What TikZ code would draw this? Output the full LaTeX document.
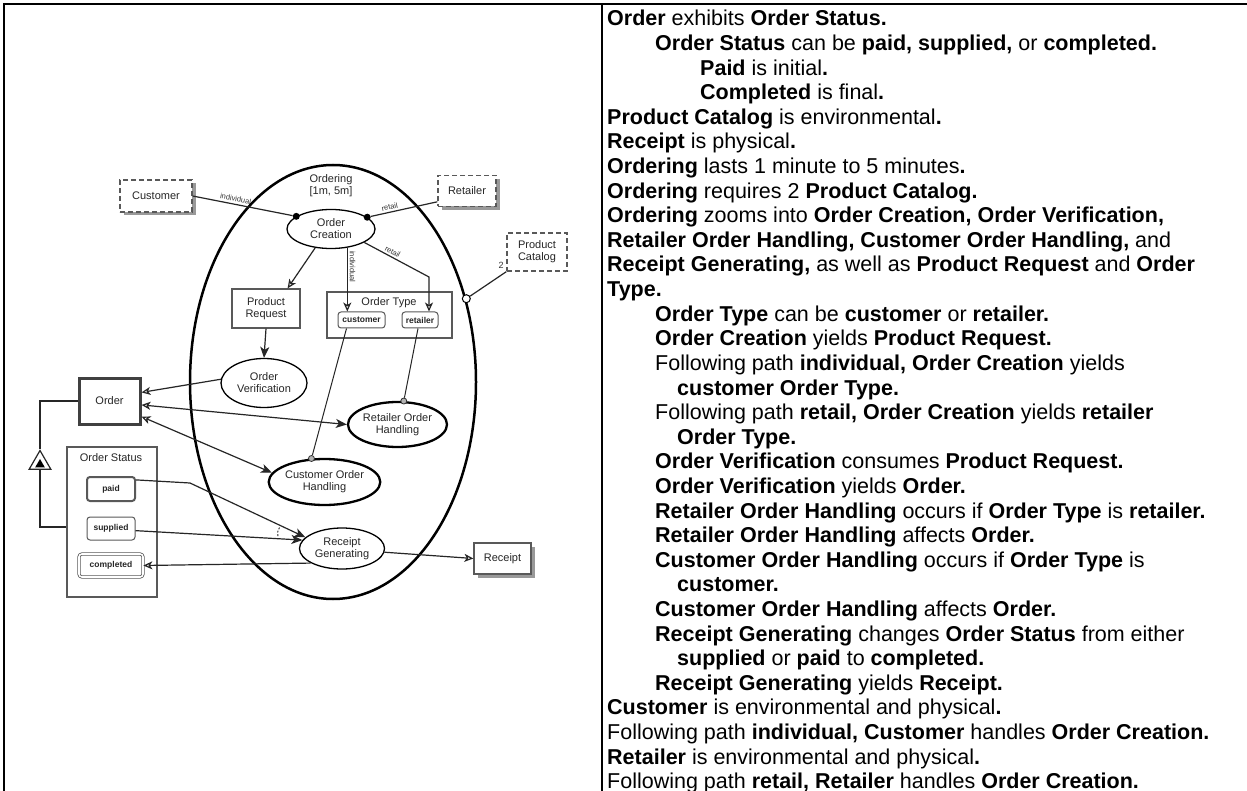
\documentclass[tikz,border=0pt]{standalone}
\usepackage{fontspec}
\setmainfont{Liberation Sans}
\usetikzlibrary{shapes.geometric,arrows.meta,shadows}
\newcommand\bt[1]{\textbf{#1}}
\begin{document}
\begin{tikzpicture}[x=1pt,y=-1pt,
  diag/.style={font=\fontsize{11}{12}\selectfont, text=black!85, align=center, inner sep=0pt},
  objbox/.style={diag, rectangle, draw=black!65, line width=1.3pt, fill=white},
  envbox/.style={dash pattern=on 5pt off 3pt},
  physbox/.style={drop shadow={shadow xshift=3.5pt, shadow yshift=-3.5pt, fill=black!40, opacity=1}},
  proc/.style={diag, ellipse, draw=black, line width=1.3pt, fill=white},
  heavyproc/.style={proc, line width=2.3pt},
  statebox/.style={rectangle, rounded corners=3pt, draw=black!65, line width=1pt, fill=white, font=\fontsize{8.5}{9}\selectfont\bfseries, text=black!85, inner sep=0pt},
  link/.style={draw=black!85, line width=1.2pt},
  reslink/.style={link, -{Stealth[open, length=9pt, width=8pt, inset=2.5pt]}},
  conslink/.style={link, -{Stealth[length=11pt, width=9pt, inset=3pt]}},
  efflink/.style={link, {Stealth[open, length=9pt, width=8pt, inset=2.5pt]}-{Stealth[length=11pt, width=9pt, inset=3pt]}},
  tag/.style={font=\fontsize{7.5}{8}\selectfont, text=black!80, inner sep=1pt},
  agentdot/.style={circle, fill=black, inner sep=0pt, minimum size=7pt},
  instcirc/.style={circle, draw=black, line width=1pt, fill=white, inner sep=0pt, minimum size=8pt},
  condcirc/.style={circle, draw=black!80, line width=0.8pt, fill=black!30, inner sep=0pt, minimum size=6pt},
  txtline/.style={anchor=base west, inner sep=0pt, font=\fontsize{21.5}{24}\selectfont}
]
\fill[white] (0,0) rectangle (1247,791);
\useasboundingbox (0,0) rectangle (1247,791);

% table frame
\draw[line width=2pt] (4,791) -- (4,4) -- (1247,4);
\draw[line width=2pt] (602,4) -- (602,791);

% ---------- OPD ----------
\node[ellipse, draw=black, line width=2.5pt, minimum width=286pt, minimum height=434pt, inner sep=0pt] (ordering) at (333,382) {};
\node[diag] (ordlbl) at (331,186) {Ordering\\{[1m, 5m]}};

\node[objbox, envbox, physbox, minimum width=72pt, minimum height=32pt] (cust) at (156,196) {Customer};
\node[objbox, envbox, physbox, minimum width=58pt, minimum height=31pt] (ret) at (467,191) {Retailer};
\node[objbox, envbox, minimum width=60pt, minimum height=38pt] (pc) at (537,252) {Product\\Catalog};

\node[proc, minimum width=88pt, minimum height=39pt] (oc) at (331,229) {Order\\Creation};
\node[objbox, minimum width=68pt, minimum height=39pt] (pr) at (266,308.5) {Product\\Request};
\node[objbox, minimum width=125pt, minimum height=46pt] (ot) at (389.5,315) {};
\node[diag] (otl) at (389,303) {Order Type};
\node[statebox, minimum width=47pt, minimum height=16pt] (cv) at (361.5,320) {customer};
\node[statebox, minimum width=36pt, minimum height=16pt] (rv) at (420,320) {retailer};

\node[proc, minimum width=86pt, minimum height=49pt] (ov) at (264,383) {Order\\Verification};
\node[objbox, draw=black!75, line width=3pt, minimum width=61pt, minimum height=46pt] (order) at (109.5,401) {Order};
\node[heavyproc, minimum width=99pt, minimum height=45pt] (roh) at (397.5,424.5) {Retailer Order\\Handling};
\node[heavyproc, minimum width=95pt, minimum height=46pt] (coh) at (324.5,482) {Customer Order\\Handling};

\node[objbox, minimum width=90pt, minimum height=150pt] (os) at (112,522) {};
\node[diag] (osl) at (111,458) {Order Status};
\node[statebox, line width=2pt, minimum width=48pt, minimum height=24pt] (paid) at (111,489) {paid};
\node[statebox, minimum width=48pt, minimum height=23pt] (supplied) at (111,528.5) {supplied};
\node[statebox, double=white, double distance=1.6pt, line width=0.8pt, minimum width=64pt, minimum height=23pt] (completed) at (111,565.5) {completed};

\node[proc, minimum width=85pt, minimum height=41pt] (rg) at (342,548.5) {Receipt\\Generating};
\node[objbox, physbox, minimum width=57pt, minimum height=31pt] (receipt) at (502.5,558.5) {Receipt};

% exhibition-characterization symbol
\node[regular polygon, regular polygon sides=3, draw=black!85, line width=1.2pt, fill=white, minimum size=25pt, inner sep=0pt] (exh) at (40,463) {};
\node[regular polygon, regular polygon sides=3, fill=black, minimum size=11pt, inner sep=0pt] (exhin) at ([yshift=-1.5pt]exh.center) {};

% link end markers
\node[agentdot] (dcust) at (oc.160) {};
\node[agentdot] (dret) at (oc.18) {};
\node[instcirc] (icat) at (ordering.32) {};
\node[condcirc] (cret) at (roh.75) {};
\node[condcirc] (ccust) at (coh.119) {};

% agent links
\draw[link] (cust.east) -- node[tag, sloped, above=1pt, pos=0.42] (tind) {individual} (dcust);
\draw[link] (ret.200) -- node[tag, sloped, above=1pt, pos=0.7] (tret) {retail} (dret);
% instrument link
\draw[link] (pc.south west) -- (icat);
\node[tag, font=\fontsize{9}{10}\selectfont] (ncat) at (501,265) {2};

% result links
\draw[reslink] (oc.230) -- (pr.43);
\draw[reslink] (oc.-49) -- node[tag, sloped, above=1pt, pos=0.3] (tind2) {individual} (oc.-49 |- cv.north);
\coordinate (rbend) at (429,277);
\draw[reslink] (oc.-22) -- node[tag, sloped, above=1pt, pos=0.4] (tret2) {retail} (rbend) -- (rbend |- rv.north);
\draw[conslink] (pr.south) -- (ov.north);
\draw[reslink] (ov.175) -- (order.15);

% effect links
\draw[efflink] (order.-7) -- (roh.west);
\draw[efflink] (order.-26) -- (coh.170);

% condition links
\draw[link, line width=1pt] ([xshift=-2pt]rv.south) -- (cret);
\draw[link, line width=1pt] ([xshift=-15pt]cv.south) -- (ccust);

% state-specified links
\coordinate (pbend) at (190,483);
\draw[conslink] (paid.20) -- (pbend) -- (rg.163);
\draw[conslink] (supplied.-5) -- (rg.168);
\draw[black!85, line width=0.9pt, dash pattern=on 2pt off 1.5pt] (279.5,527.5) .. controls (277.5,531) .. (278,537.5);
\draw[reslink] (rg.205) -- (completed.east);
\draw[reslink] (rg.-5) -- (receipt.west);

% structural link
\draw[link] (order.west) -| (exh.corner 1);
\draw[link] (exh.side 2) |- ([yshift=-5pt]os.west);

% ---------- OPL text ----------
\def\xa{607}\def\xb{655}\def\xc{700}\def\xh{677}
\def\ya{26}\def\dy{24.6}
\node[txtline] (t1)  at (\xa,\ya+0*\dy) {\bt{Order} exhibits \bt{Order Status.}};
\node[txtline] (t2)  at (\xb,\ya+1*\dy) {\bt{Order Status} can be \bt{paid, supplied,} or \bt{completed.}};
\node[txtline] (t3)  at (\xc,\ya+2*\dy) {\bt{Paid} is initial\bt{.}};
\node[txtline] (t4)  at (\xc,\ya+3*\dy) {\bt{Completed} is final\bt{.}};
\node[txtline] (t5)  at (\xa,\ya+4*\dy) {\bt{Product Catalog} is environmental\bt{.}};
\node[txtline] (t6)  at (\xa,\ya+5*\dy) {\bt{Receipt} is physical\bt{.}};
\node[txtline] (t7)  at (\xa,\ya+6*\dy) {\bt{Ordering} lasts 1 minute to 5 minutes\bt{.}};
\node[txtline] (t8)  at (\xa,\ya+7*\dy) {\bt{Ordering} requires 2 \bt{Product Catalog.}};
\node[txtline] (t9)  at (\xa,\ya+8*\dy) {\bt{Ordering} zooms into \bt{Order Creation, Order Verification,}};
\node[txtline] (t10) at (\xa,\ya+9*\dy) {\bt{Retailer Order Handling, Customer Order Handling,} and};
\node[txtline] (t11) at (\xa,\ya+10*\dy) {\bt{Receipt Generating,} as well as \bt{Product Request} and \bt{Order}};
\node[txtline] (t12) at (\xa,\ya+11*\dy) {\bt{Type.}};
\node[txtline] (t13) at (\xb,\ya+12*\dy) {\bt{Order Type} can be \bt{customer} or \bt{retailer.}};
\node[txtline] (t14) at (\xb,\ya+13*\dy) {\bt{Order Creation} yields \bt{Product Request.}};
\node[txtline] (t15) at (\xb,\ya+14*\dy) {Following path \bt{individual, Order Creation} yields};
\node[txtline] (t16) at (\xh,\ya+15*\dy) {\bt{customer Order Type.}};
\node[txtline] (t17) at (\xb,\ya+16*\dy) {Following path \bt{retail, Order Creation} yields \bt{retailer}};
\node[txtline] (t18) at (\xh,\ya+17*\dy) {\bt{Order Type.}};
\node[txtline] (t19) at (\xb,\ya+18*\dy) {\bt{Order Verification} consumes \bt{Product Request.}};
\node[txtline] (t20) at (\xb,\ya+19*\dy) {\bt{Order Verification} yields \bt{Order.}};
\node[txtline] (t21) at (\xb,\ya+20*\dy) {\bt{Retailer Order Handling} occurs if \bt{Order Type} is \bt{retailer.}};
\node[txtline] (t22) at (\xb,\ya+21*\dy) {\bt{Retailer Order Handling} affects \bt{Order.}};
\node[txtline] (t23) at (\xb,\ya+22*\dy) {\bt{Customer Order Handling} occurs if \bt{Order Type} is};
\node[txtline] (t24) at (\xh,\ya+23*\dy) {\bt{customer.}};
\node[txtline] (t25) at (\xb,\ya+24*\dy) {\bt{Customer Order Handling} affects \bt{Order.}};
\node[txtline] (t26) at (\xb,\ya+25*\dy) {\bt{Receipt Generating} changes \bt{Order Status} from either};
\node[txtline] (t27) at (\xh,\ya+26*\dy) {\bt{supplied} or \bt{paid} to \bt{completed.}};
\node[txtline] (t28) at (\xb,\ya+27*\dy) {\bt{Receipt Generating} yields \bt{Receipt.}};
\node[txtline] (t29) at (\xa,\ya+28*\dy) {\bt{Customer} is environmental and physical\bt{.}};
\node[txtline] (t30) at (\xa,\ya+29*\dy) {Following path \bt{individual, Customer} handles \bt{Order Creation.}};
\node[txtline] (t31) at (\xa,\ya+30*\dy) {\bt{Retailer} is environmental and physical\bt{.}};
\node[txtline] (t32) at (\xa,\ya+31*\dy) {Following path \bt{retail, Retailer} handles \bt{Order Creation.}};
\end{tikzpicture}
\end{document}
